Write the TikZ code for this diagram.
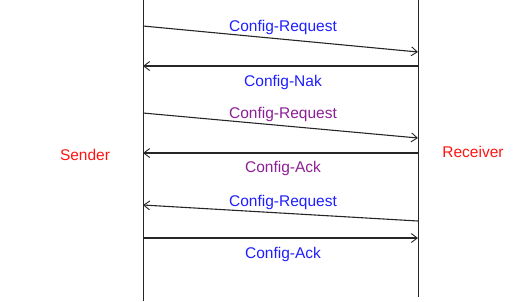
\documentclass[tikz,border=0pt]{standalone}
\usepackage{fontspec}
\setmainfont{Liberation Sans}
\usetikzlibrary{arrows.meta}
\definecolor{msgblue}{RGB}{30,30,255}
\definecolor{msgpurple}{RGB}{140,30,150}
\definecolor{rolered}{RGB}{255,20,20}
\begin{document}
\begin{tikzpicture}[x=1pt,y=-1pt,
  lifeline/.style={draw=black!85,line width=1pt},
  msg/.style={draw=black!85,line width=1.1pt,-{Straight Barb[length=6pt,width=9pt,line width=0.9pt]}},
  lbl/.style={font=\fontsize{15.5}{17}\selectfont,inner sep=0pt},
  role/.style={font=\fontsize{15.5}{17}\selectfont,inner sep=0pt,text=rolered}]
\useasboundingbox (0,0) rectangle (518,301);
% lifelines
\coordinate (stop) at (143,0);  \coordinate (sbot) at (143,301);
\coordinate (rtop) at (418,0);  \coordinate (rbot) at (418,297);
\draw[lifeline] (stop) -- (sbot);
\draw[lifeline] (rtop) -- (rbot);
% roles
\node[role] (sender) at (85,155) {Sender};
\node[role] (receiver) at (473,152) {Receiver};
% message end points
\coordinate (a1) at (143,26);  \coordinate (b1) at (418,52);
\coordinate (a2) at (143,66);  \coordinate (b2) at (418,66);
\coordinate (a3) at (143,113); \coordinate (b3) at (418,138);
\coordinate (a4) at (143,153); \coordinate (b4) at (418,153);
\coordinate (a5) at (143,205); \coordinate (b5) at (418,221);
\coordinate (a6) at (143,238); \coordinate (b6) at (418,238);
% messages
\draw[msg] (a1) -- (b1);
\draw[msg] (b2) -- (a2);
\draw[msg] (a3) -- (b3);
\draw[msg] (b4) -- (a4);
\draw[msg] (b5) -- (a5);
\draw[msg] (a6) -- (b6);
% labels
\node[lbl,text=msgblue] (l1) at (283,27) {Config-Request};
\node[lbl,text=msgblue] (l2) at (283,82) {Config-Nak};
\node[lbl,text=msgpurple] (l3) at (283,114) {Config-Request};
\node[lbl,text=msgpurple] (l4) at (283,168) {Config-Ack};
\node[lbl,text=msgblue] (l5) at (283,202) {Config-Request};
\node[lbl,text=msgblue] (l6) at (283,254) {Config-Ack};
\end{tikzpicture}
\end{document}
